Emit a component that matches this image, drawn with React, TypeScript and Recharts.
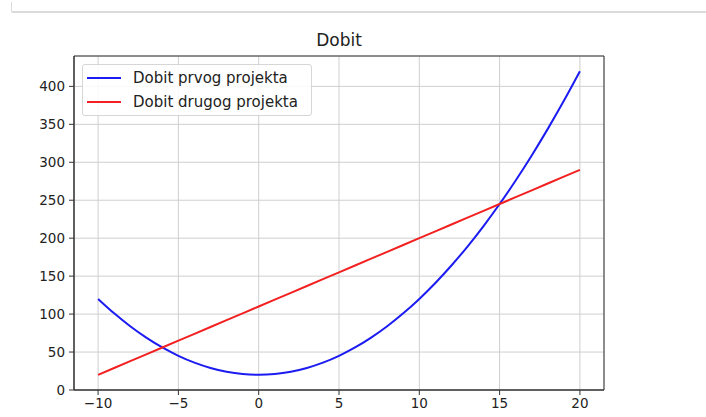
import React from 'react';
import { LineChart, Line, XAxis, YAxis, CartesianGrid, ReferenceArea } from 'recharts';

// Profit of the two projects
const xValues = [
  -10, -9, -8, -7, -6, -5, -4, -3, -2, -1, 0, 1, 2, 3, 4, 5, 6, 7, 8, 9, 10,
  11, 12, 13, 14, 15, 16, 17, 18, 19, 20,
];
const prvogValues = [
  120, 101, 84, 69, 56, 45, 36, 29, 24, 21, 20, 21, 24, 29, 36, 45, 56, 69, 84, 101, 120,
  141, 164, 189, 216, 245, 276, 309, 344, 381, 420,
];
const drugogValues = [
  20, 29, 38, 47, 56, 65, 74, 83, 92, 101, 110, 119, 128, 137, 146, 155, 164, 173, 182, 191, 200,
  209, 218, 227, 236, 245, 254, 263, 272, 281, 290,
];
const xTicks = [-10, -5, 0, 5, 10, 15, 20];
const yTicks = [0, 50, 100, 150, 200, 250, 300, 350, 400];
const seriesNames = ['Dobit prvog projekta', 'Dobit drugog projekta'];
const chartTitle = 'Dobit';

const BLUE = '#1c1cf2';
const RED = '#f22020';
const FONT = '"DejaVu Sans", sans-serif';

const data = xValues.map((x, i) => ({ x, prvog: prvogValues[i], drugog: drugogValues[i] }));

const fmt = (v: number) => String(v).replace('-', '\u2212');

function LegendBox() {
  const items = [
    { name: seriesNames[0], color: BLUE },
    { name: seriesNames[1], color: RED },
  ];
  return (
    <div
      style={{
        position: 'absolute',
        left: 82,
        top: 64,
        width: 216,
        border: '1px solid #d6d6d6',
        borderRadius: 3,
        background: 'rgba(255,255,255,0.85)',
        padding: '1px 8px 1px 4px',
        fontFamily: FONT,
        fontSize: 15,
        color: '#222',
        lineHeight: '24px',
        whiteSpace: 'nowrap',
      }}
    >
      {items.map((it) => (
        <div key={it.name} style={{ display: 'flex', alignItems: 'center' }}>
          <span style={{ display: 'inline-block', width: 34, height: 2, background: it.color, marginRight: 12 }} />
          <span>{it.name}</span>
        </div>
      ))}
    </div>
  );
}

export default function App() {
  return (
    <div style={{ position: 'fixed', left: 0, top: 0, width: 706, height: 417, background: '#fff', overflow: 'hidden' }}>
      {/* notebook cell edge */}
      <div
        style={{
          position: 'absolute',
          left: 11,
          top: 2,
          right: -4,
          height: 9,
          borderLeft: '1px solid #dadada',
          borderBottom: '2px solid #dadada',
          borderBottomLeftRadius: 2,
        }}
      />
      <div
        style={{
          position: 'absolute',
          left: 74,
          width: 530,
          top: 30,
          textAlign: 'center',
          fontFamily: FONT,
          fontSize: 17,
          color: '#222',
        }}
      >
        {chartTitle}
      </div>
      <LineChart width={706} height={417} data={data} margin={{ top: 56, right: 102, bottom: 2, left: 14 }}>
        <CartesianGrid stroke="#cfcfcf" strokeWidth={1} />
        <XAxis
          dataKey="x"
          type="number"
          domain={[-11.5, 21.5]}
          ticks={xTicks}
          tickFormatter={fmt}
          allowDataOverflow
          height={25}
          tickSize={5}
          tickMargin={3}
          axisLine={{ stroke: '#333' }}
          tickLine={{ stroke: '#333' }}
          tick={{ fill: '#222', fontSize: 13.5, fontFamily: FONT }}
        />
        <YAxis
          type="number"
          domain={[0, 440]}
          ticks={yTicks}
          allowDataOverflow
          width={60}
          tickSize={5}
          tickMargin={4}
          axisLine={{ stroke: '#333' }}
          tickLine={{ stroke: '#333' }}
          tick={{ fill: '#222', fontSize: 13.5, fontFamily: FONT }}
        />
        <ReferenceArea x1={-11.5} x2={21.5} y1={0} y2={440} fill="none" stroke="#333" strokeWidth={1} />
        <Line
          type="monotone"
          dataKey="prvog"
          name={seriesNames[0]}
          stroke={BLUE}
          strokeWidth={2}
          dot={false}
          isAnimationActive={false}
        />
        <Line
          type="linear"
          dataKey="drugog"
          name={seriesNames[1]}
          stroke={RED}
          strokeWidth={2}
          dot={false}
          isAnimationActive={false}
        />
      </LineChart>
      <LegendBox />
    </div>
  );
}
